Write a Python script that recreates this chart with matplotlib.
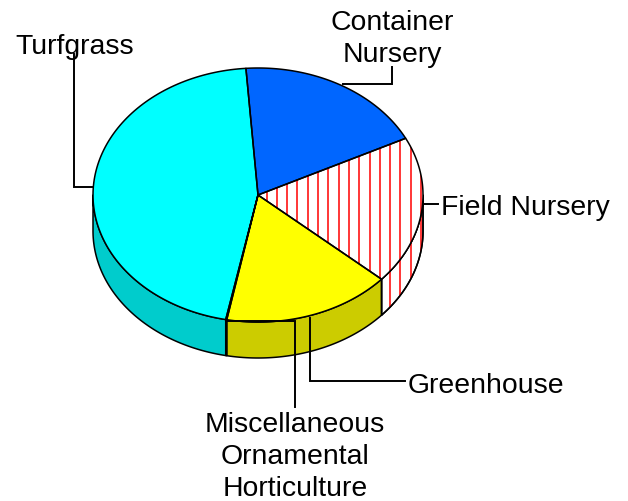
import numpy as np
import matplotlib
matplotlib.use("Agg")
import matplotlib.pyplot as plt
from matplotlib.patches import PathPatch, Polygon
from matplotlib.path import Path

plt.rcParams['font.family'] = ['Liberation Sans', 'DejaVu Sans']

categories = ["Container Nursery", "Field Nursery", "Greenhouse",
              "Miscellaneous Ornamental Horticulture", "Turfgrass"]
shares = [18.8, 18.9, 16.5, 0.1, 45.7]
top_colors = ["#0066FF", "#FFFFFF", "#FFFF00", "#FFFF00", "#00FFFF"]
side_colors = ["#0052CC", "#FFFFFF", "#CCCC00", "#CCCC00", "#00CCCC"]
hatched = [False, True, False, False, False]

CX, CY, A, B, DEPTH = 258.0, 196.0, 165.0, 127.0, 36.0
START = 94.2
LW = 1.1
FS = 20.4
LS = 1.3

fig = plt.figure(figsize=(6.28, 5.02), dpi=100)
ax = fig.add_axes([0, 0, 1, 1])
ax.set_xlim(0, 628)
ax.set_ylim(502, 0)
ax.axis("off")


def rim(t0, t1, dy=0.0, n=120):
    t = np.radians(np.linspace(t0, t1, n))
    return np.column_stack([CX + A * np.cos(t), CY - B * np.sin(t) + dy])


def hatch(patch, z):
    lines = ax.vlines(np.arange(266.5, 425, 10.3), 0, 502, color="#FF0000",
                      lw=1.1, zorder=z)
    lines.set_clip_path(patch)


edges = START - np.cumsum([0] + shares) * 3.6

# side walls: only the front half of the rim (angles between 180 and 360, i.e. -180..0)
for i, (t0, t1) in enumerate(zip(edges[:-1], edges[1:])):
    for shift in (0, -360):
        lo = max(t1 + shift, -180)
        hi = min(t0 + shift, 0)
        if hi <= lo:
            continue
        front = rim(hi, lo)
        back = rim(lo, hi, DEPTH)
        poly = Polygon(np.vstack([front, back]), closed=True, fc=side_colors[i],
                       ec="black", lw=LW, zorder=2, joinstyle="round")
        ax.add_patch(poly)
        if hatched[i]:
            hatch(poly, 2.5)
            outline = Polygon(np.vstack([front, back]), closed=True, fill=False,
                              ec="black", lw=LW, zorder=2.6)
            ax.add_patch(outline)

# top faces
for i, (t0, t1) in enumerate(zip(edges[:-1], edges[1:])):
    pts = np.vstack([[CX, CY], rim(t0, t1), [CX, CY]])
    wedge = PathPatch(Path(pts), fc=top_colors[i], ec="none", zorder=3)
    ax.add_patch(wedge)
    if hatched[i]:
        hatch(wedge, 3.5)
    outline = PathPatch(Path(pts), fill=False, ec="black", lw=LW, zorder=4,
                        joinstyle="round")
    ax.add_patch(outline)

# leaders
leaders = [
    ([74, 74, 93], [55, 188, 188]),
    ([392, 392, 343], [68, 85, 85]),
    ([423, 438], [205, 205]),
    ([310, 310, 405], [319, 382, 382]),
    ([226, 295, 295], [322, 322, 408]),
]
for xs, ys in leaders:
    ax.plot(xs, ys, color="black", lw=1.4, zorder=5, solid_joinstyle="miter")

# labels
ax.text(15, 47, "Turfgrass", fontsize=FS, ha="left", va="center", zorder=6)
ax.text(392, 39, "Container\nNursery", fontsize=FS, ha="center", va="center",
        linespacing=LS, zorder=6)
ax.text(441, 208, "Field Nursery", fontsize=FS, ha="left", va="center", zorder=6)
ax.text(408, 386, "Greenhouse", fontsize=FS, ha="left", va="center", zorder=6)
ax.text(295, 457, "Miscellaneous\nOrnamental\nHorticulture", fontsize=FS, ha="center",
        va="center", linespacing=LS, zorder=6)

fig.savefig("out.png", dpi=100)
